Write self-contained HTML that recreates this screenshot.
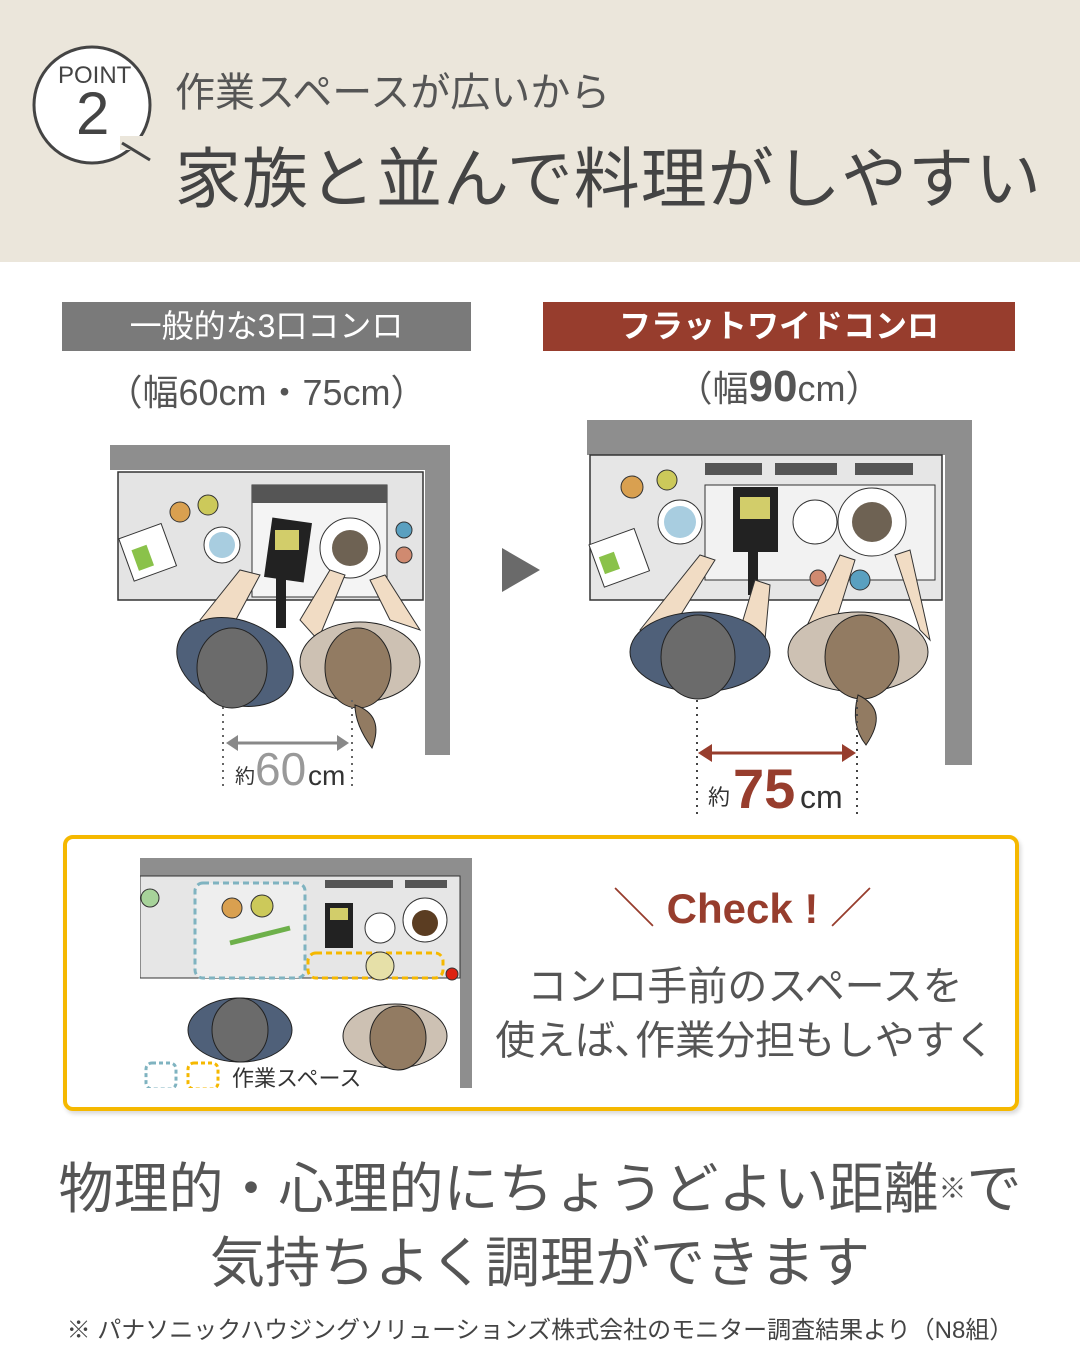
<!DOCTYPE html>
<html><head><meta charset="utf-8"><style>
body{margin:0;width:1080px;height:1350px;background:#fff;position:relative;overflow:hidden;font-family:"Liberation Sans","Noto Sans CJK JP",sans-serif;color:#555}
.a{position:absolute;white-space:nowrap}
</style></head><body>
<div class="a" style="left:0;top:0;width:1080px;height:262px;background:#ebe6db"></div>
<svg class="a" style="left:0;top:0" width="170" height="180">
<circle cx="92" cy="105" r="58" fill="#fff" stroke="#444" stroke-width="3"/>
<rect x="120" y="136" width="26" height="14" fill="#ebe6db"/>
<line x1="122" y1="143" x2="150" y2="160" stroke="#444" stroke-width="3"/>
</svg>
<div class="a" style="left:58px;top:62px;font-size:24px;color:#444">POINT</div>
<div class="a" style="left:76px;top:84px;font-size:60px;color:#444;line-height:1">2</div>
<div class="a" style="left:175px;top:60px;font-size:40px;color:#555">作業スペースが広いから</div>
<div class="a" style="left:175px;top:126px;font-size:66px;color:#444;letter-spacing:1px">家族と並んで料理がしやすい</div>

<div class="a" style="left:62px;top:302px;width:409px;height:49px;background:#7a7a7a;color:#fff;font-size:32px;text-align:center;line-height:49px">一般的な3口コンロ</div>
<div class="a" style="left:543px;top:302px;width:472px;height:49px;background:#973d2d;color:#fff;font-size:32px;font-weight:bold;text-align:center;line-height:49px">フラットワイドコンロ</div>
<div class="a" style="left:62px;top:364px;width:409px;text-align:center;font-size:36px;color:#555">（幅60cm・75cm）</div>
<div class="a" style="left:543px;top:360px;width:472px;text-align:center;font-size:36px;color:#555">（幅<b style="font-size:44px">90</b>cm）</div>

<svg class="a" style="left:0;top:0" width="1080" height="830">
<rect x="110" y="445" width="340" height="25" fill="#8e8e8e"/>
<rect x="425" y="445" width="25" height="310" fill="#8e8e8e"/>
<rect x="118" y="472" width="305" height="128" fill="#e4e4e4" stroke="#333" stroke-width="1.5"/>
<rect x="252" y="485" width="135" height="112" fill="#f4f4f4" stroke="#333"/>
<rect x="252" y="485" width="135" height="18" fill="#555"/>
<rect x="125" y="530" width="45" height="45" fill="#fff" stroke="#333" transform="rotate(-20 147 552)"/>
<rect x="133" y="545" width="16" height="22" fill="#8ac24a" transform="rotate(-20 147 552)"/>
<circle cx="180" cy="512" r="10" fill="#d9a050" stroke="#333"/>
<circle cx="208" cy="505" r="10" fill="#ccc95a" stroke="#333"/>
<circle cx="222" cy="545" r="18" fill="#fff" stroke="#333"/><circle cx="222" cy="545" r="13" fill="#a8cde0"/>
<circle cx="350" cy="548" r="30" fill="#fff" stroke="#333"/><circle cx="350" cy="548" r="18" fill="#6e6253"/>
<rect x="268" y="520" width="40" height="60" fill="#222" transform="rotate(8 288 550)"/>
<rect x="275" y="530" width="24" height="20" fill="#d2cd6a"/>
<rect x="276" y="578" width="10" height="50" fill="#222"/>
<circle cx="404" cy="530" r="8" fill="#5aa0c0" stroke="#333"/><circle cx="404" cy="555" r="8" fill="#d08a70" stroke="#333"/>
<path d="M200 620 L240 570 L260 575 L225 640Z" fill="#f1dcc4" stroke="#333"/>
<path d="M300 620 L330 570 L345 575 L318 640Z" fill="#f1dcc4" stroke="#333"/>
<path d="M390 620 L370 580 L385 575 L420 630Z" fill="#f1dcc4" stroke="#333"/>
<ellipse cx="235" cy="662" rx="60" ry="42" fill="#4f6079" stroke="#222" transform="rotate(20 235 662)"/>
<ellipse cx="232" cy="668" rx="35" ry="40" fill="#6b6b6b" stroke="#222"/>
<ellipse cx="360" cy="662" rx="60" ry="40" fill="#cdc1b3" stroke="#222"/>
<ellipse cx="358" cy="668" rx="33" ry="40" fill="#927b62" stroke="#222"/>
<path d="M355 705 Q385 715 372 748 Q355 725 355 705Z" fill="#927b62" stroke="#222"/>
<line x1="223" y1="700" x2="223" y2="790" stroke="#666" stroke-width="2" stroke-dasharray="2 5"/>
<line x1="352" y1="700" x2="352" y2="790" stroke="#666" stroke-width="2" stroke-dasharray="2 5"/>
<line x1="230" y1="743" x2="345" y2="743" stroke="#888" stroke-width="3"/>
<path d="M226 743 L238 735 L238 751Z M349 743 L337 735 L337 751Z" fill="#888"/>
<text x="235" y="783" font-size="20" fill="#333">約</text>
<text x="255" y="785" font-size="46" fill="#999">60</text>
<text x="308" y="785" font-size="28" fill="#333">cm</text>
<path d="M502 548 L540 570 L502 592Z" fill="#6a6a6a"/>
<rect x="587" y="420" width="383" height="35" fill="#8e8e8e"/>
<rect x="945" y="420" width="27" height="345" fill="#8e8e8e"/>
<rect x="590" y="455" width="352" height="145" fill="#e6e6e6" stroke="#333" stroke-width="1.5"/>
<rect x="705" y="463" width="57" height="12" fill="#555"/><rect x="775" y="463" width="62" height="12" fill="#555"/><rect x="855" y="463" width="58" height="12" fill="#555"/>
<rect x="705" y="485" width="230" height="95" fill="#f2f2f2" stroke="#333"/>
<rect x="595" y="535" width="48" height="45" fill="#fff" stroke="#333" transform="rotate(-20 620 557)"/>
<rect x="600" y="550" width="16" height="18" fill="#8ac24a" transform="rotate(-20 620 557)"/>
<circle cx="632" cy="487" r="11" fill="#d9a050" stroke="#333"/>
<circle cx="667" cy="480" r="10" fill="#ccc95a" stroke="#333"/>
<circle cx="680" cy="522" r="22" fill="#fff" stroke="#333"/><circle cx="680" cy="522" r="16" fill="#a8cde0"/>
<rect x="733" y="487" width="45" height="65" fill="#222"/><rect x="740" y="497" width="30" height="22" fill="#d2cd6a"/>
<rect x="748" y="550" width="10" height="45" fill="#222"/>
<circle cx="815" cy="522" r="22" fill="#fff" stroke="#333"/>
<circle cx="872" cy="522" r="34" fill="#fff" stroke="#333"/><circle cx="872" cy="522" r="20" fill="#6e6253"/>
<circle cx="860" cy="580" r="10" fill="#5aa0c0" stroke="#333"/><circle cx="818" cy="578" r="8" fill="#d08a70" stroke="#333"/>
<path d="M640 630 L700 555 L715 560 L665 640Z" fill="#f1dcc4" stroke="#333"/>
<path d="M740 630 L755 580 L770 585 L765 640Z" fill="#f1dcc4" stroke="#333"/>
<path d="M805 630 L840 555 L855 560 L830 640Z" fill="#f1dcc4" stroke="#333"/>
<path d="M920 630 L895 555 L910 550 L930 640Z" fill="#f1dcc4" stroke="#333"/>
<ellipse cx="700" cy="652" rx="70" ry="40" fill="#4f6079" stroke="#222"/>
<ellipse cx="698" cy="657" rx="37" ry="42" fill="#6b6b6b" stroke="#222"/>
<ellipse cx="858" cy="652" rx="70" ry="40" fill="#cdc1b3" stroke="#222"/>
<ellipse cx="862" cy="657" rx="37" ry="42" fill="#927b62" stroke="#222"/>
<path d="M858 695 Q890 710 866 745 Q850 725 858 695Z" fill="#927b62" stroke="#222"/>
<line x1="697" y1="700" x2="697" y2="815" stroke="#444" stroke-width="2" stroke-dasharray="2 5"/>
<line x1="857" y1="700" x2="857" y2="815" stroke="#444" stroke-width="2" stroke-dasharray="2 5"/>
<line x1="705" y1="753" x2="850" y2="753" stroke="#973d2d" stroke-width="3"/>
<path d="M698 753 L712 744 L712 762Z M856 753 L842 744 L842 762Z" fill="#973d2d"/>
<text x="708" y="805" font-size="22" fill="#333">約</text>
<text x="733" y="808" font-size="56" font-weight="bold" fill="#973d2d">75</text>
<text x="800" y="808" font-size="32" fill="#333">cm</text>
</svg>

<div class="a" style="left:63px;top:835px;width:948px;height:268px;border:4px solid #f5b800;border-radius:10px;box-shadow:2px 3px 4px rgba(0,0,0,.15)"></div>
<svg class="a" style="left:140px;top:858px" width="332" height="230">
<rect x="0" y="0" width="332" height="230" fill="#fff"/>
<rect x="0" y="0" width="332" height="18" fill="#8e8e8e"/>
<rect x="320" y="0" width="12" height="230" fill="#8e8e8e"/>
<rect x="0" y="18" width="320" height="102" fill="#e6e6e6" stroke="#333"/>
<rect x="185" y="22" width="40" height="8" fill="#555"/><rect x="213" y="22" width="40" height="8" fill="#555"/><rect x="265" y="22" width="42" height="8" fill="#555"/>
<circle cx="10" cy="40" r="9" fill="#a7d39a" stroke="#333"/>
<rect x="55" y="25" width="110" height="95" rx="8" fill="#eee" stroke="#7fb3c0" stroke-width="3" stroke-dasharray="6 4"/>
<circle cx="92" cy="50" r="10" fill="#d9a050" stroke="#333"/><circle cx="122" cy="48" r="11" fill="#ccc95a" stroke="#333"/>
<line x1="90" y1="85" x2="150" y2="70" stroke="#6db04a" stroke-width="5"/>
<rect x="185" y="45" width="28" height="45" fill="#222"/><rect x="190" y="50" width="18" height="12" fill="#d2cd6a"/>
<circle cx="240" cy="70" r="15" fill="#fff" stroke="#333"/>
<circle cx="285" cy="62" r="22" fill="#fff" stroke="#333"/><circle cx="285" cy="65" r="13" fill="#5b3d22"/>
<rect x="168" y="95" width="135" height="25" rx="8" fill="none" stroke="#f5b800" stroke-width="3" stroke-dasharray="6 4"/>
<circle cx="240" cy="108" r="14" fill="#e6e0a8" stroke="#333"/>
<circle cx="312" cy="116" r="6" fill="#d21" stroke="#333"/>
<ellipse cx="100" cy="172" rx="52" ry="32" fill="#4f6079" stroke="#222"/>
<ellipse cx="100" cy="172" rx="28" ry="32" fill="#6b6b6b" stroke="#222"/>
<ellipse cx="255" cy="178" rx="52" ry="32" fill="#cdc1b3" stroke="#222"/>
<ellipse cx="258" cy="180" rx="28" ry="32" fill="#927b62" stroke="#222"/>
<rect x="6" y="205" width="30" height="26" rx="6" fill="none" stroke="#7fb3c0" stroke-width="3" stroke-dasharray="4 3"/>
<rect x="48" y="205" width="30" height="26" rx="6" fill="none" stroke="#f5b800" stroke-width="3" stroke-dasharray="4 3"/>
<text x="92" y="228" font-size="22" fill="#333">作業スペース</text>
</svg>
<div class="a" style="left:520px;top:875px;width:445px;text-align:center;font-size:42px;color:#973d2d"><span>＼ </span><b>Check !</b><span> ／</span></div>
<div class="a" style="left:495px;top:960px;width:500px;text-align:center;font-size:40px;color:#555;line-height:54px">コンロ手前のスペースを<br>使えば､作業分担もしやすく</div>

<div class="a" style="left:0;top:1152px;width:1080px;text-align:center;font-size:55px;color:#555;line-height:74px">物理的・心理的にちょうどよい距離<span style="font-size:28px;vertical-align:top">※</span>で<br>気持ちよく調理ができます</div>
<div class="a" style="left:0;top:1310px;width:1080px;text-align:center;font-size:24px;color:#444">※ パナソニックハウジングソリューションズ株式会社のモニター調査結果より（N8組）</div>
</body></html>
